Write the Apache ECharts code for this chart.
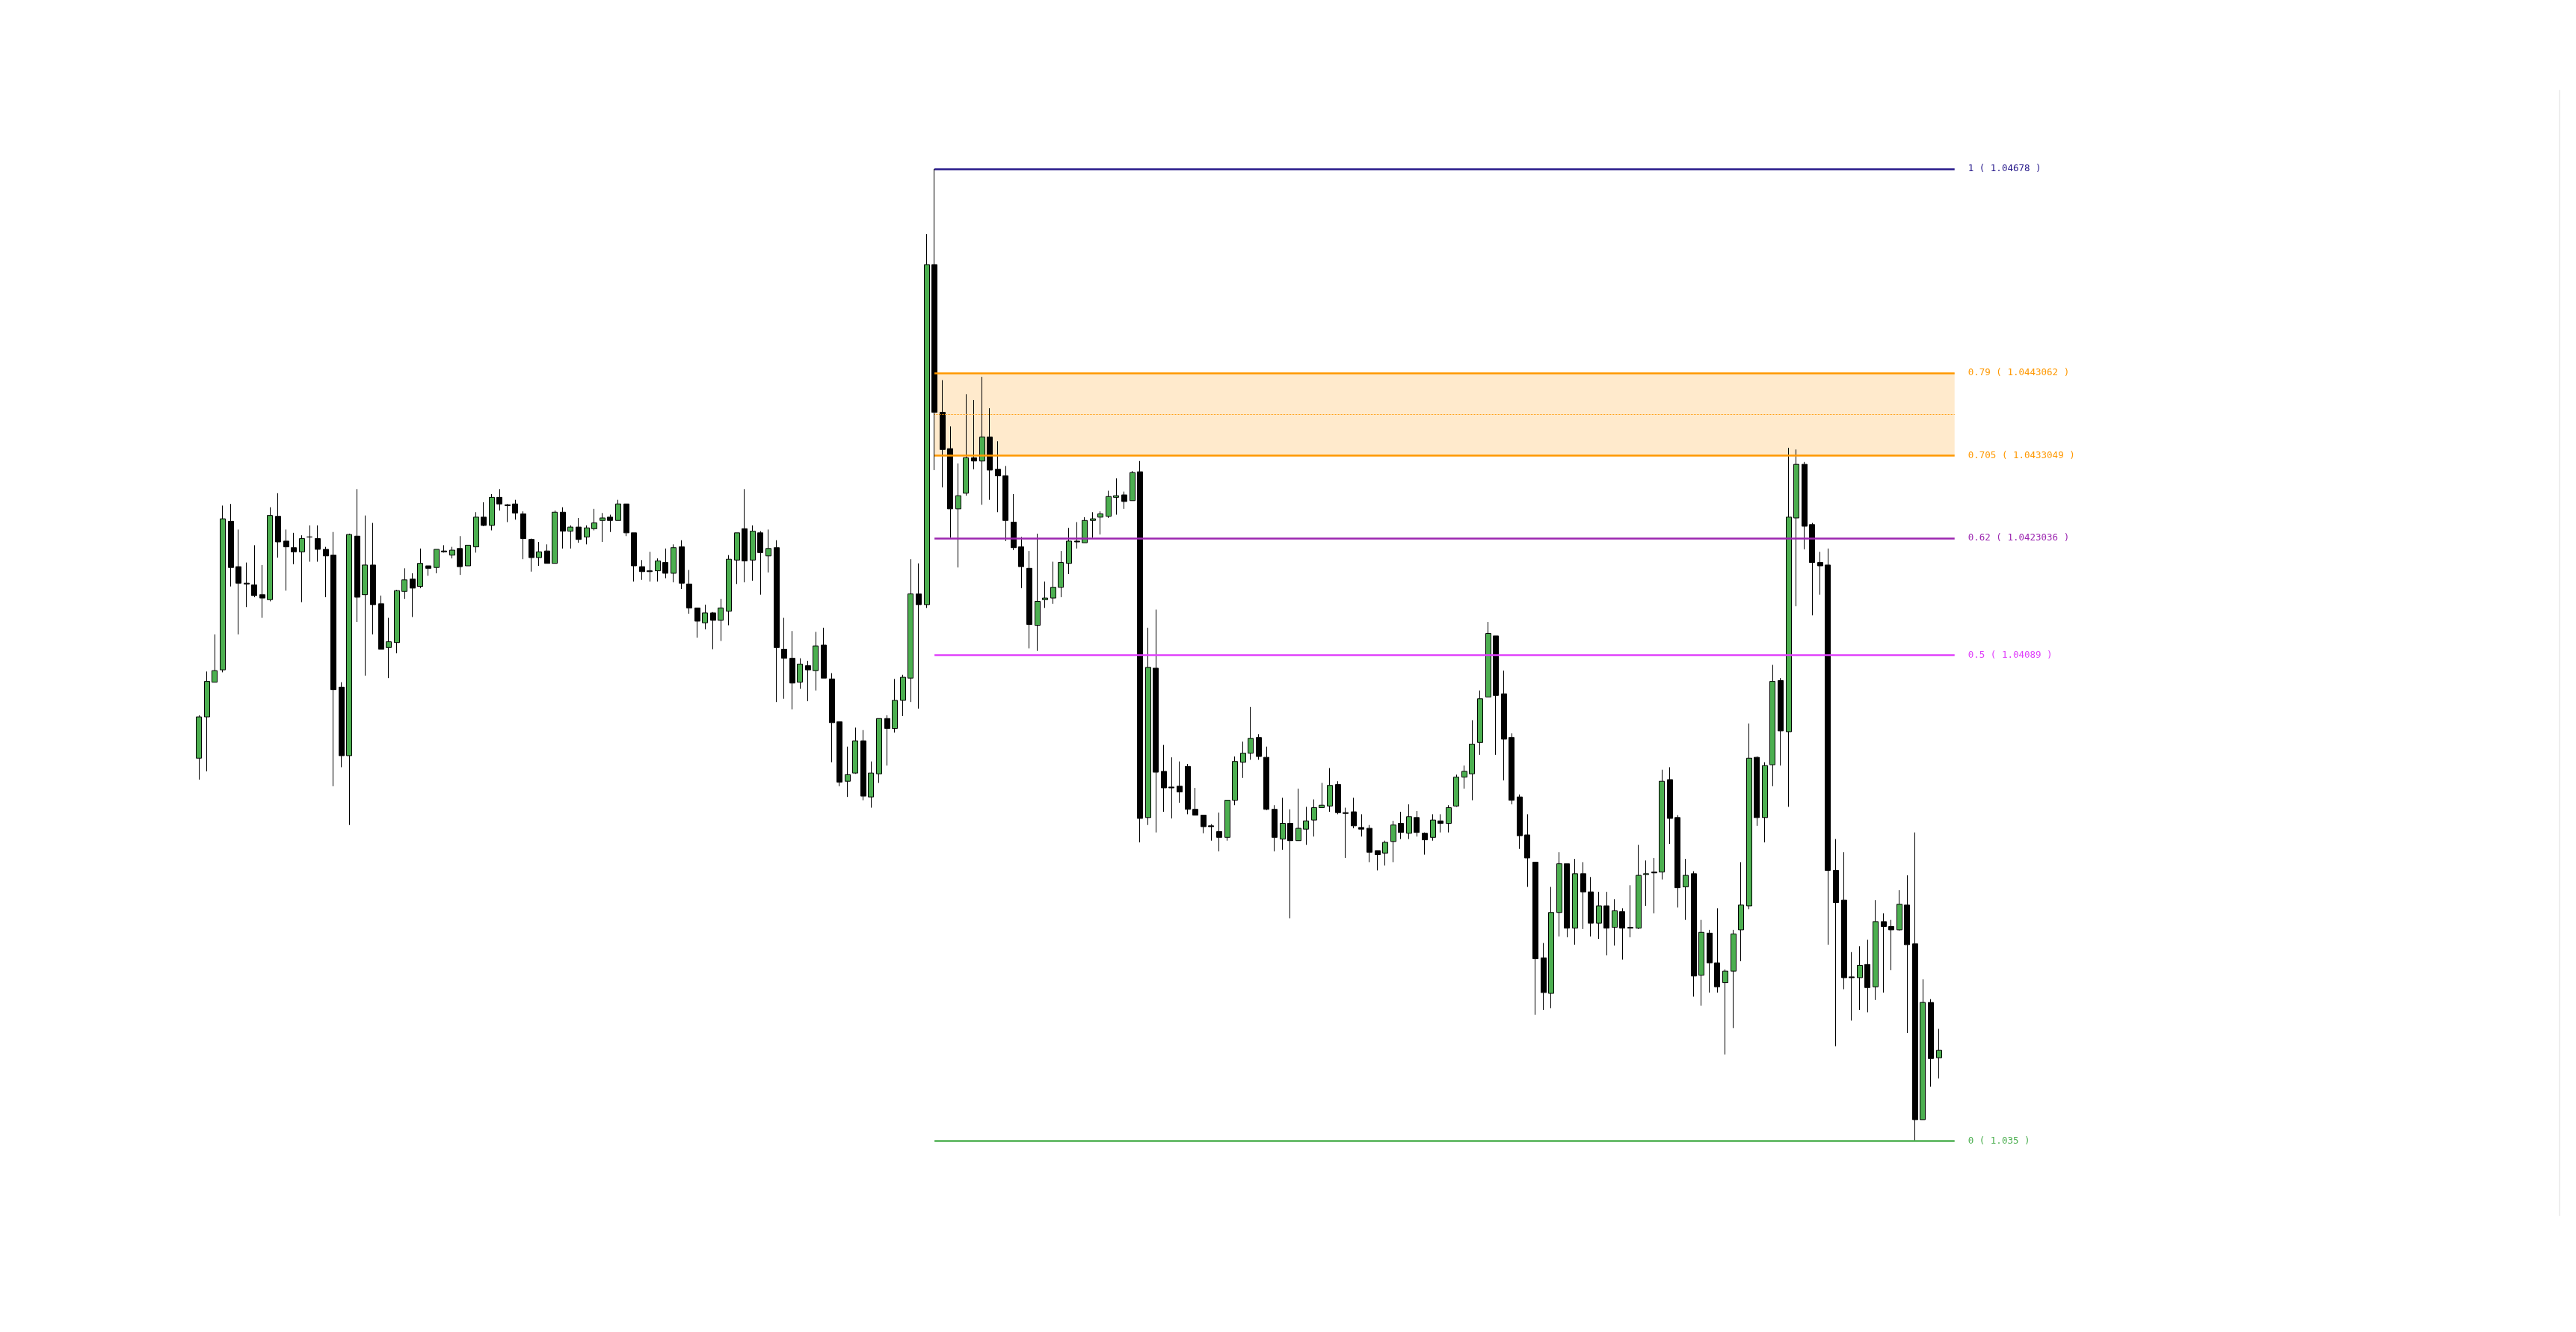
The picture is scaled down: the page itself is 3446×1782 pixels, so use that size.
<!DOCTYPE html>
<html><head><meta charset="utf-8">
<script src="https://cdn.jsdelivr.net/npm/echarts@6/dist/echarts.min.js"></script>
<style>html,body{margin:0;padding:0;background:#fff}#chart{width:3446px;height:1782px}</style>
</head><body><div id="chart"></div>
<script>
const opens = [
1.03964,1.04014,1.04056,1.04071,1.04251,1.04196,1.04176,1.04174,1.04162,1.04156,
1.04257,1.04227,1.04219,1.04214,1.04232,1.04230,1.04217,1.04210,1.04050,1.03967,
1.04233,1.04162,1.04198,1.04151,1.04098,1.04104,1.04166,1.04181,1.04172,1.04197,
1.04195,1.04215,1.04210,1.04218,1.04197,1.04220,1.04256,1.04246,1.04280,1.04271,
1.04272,1.04260,1.04229,1.04207,1.04215,1.04200,1.04262,1.04239,1.04244,1.04232,
1.04242,1.04252,1.04256,1.04252,1.04272,1.04237,1.04196,1.04191,1.04191,1.04201,
1.04188,1.04220,1.04175,1.04146,1.04128,1.04140,1.04131,1.04142,1.04204,1.04242,
1.04204,1.04237,1.04209,1.04219,1.04096,1.04085,1.04056,1.04076,1.04070,1.04101,
1.04060,1.04008,1.03936,1.03946,1.03985,1.03917,1.03945,1.04012,1.04000,1.04034,
1.04061,1.04163,1.04150,1.04562,1.04383,1.04339,1.04266,1.04285,1.04328,1.04324,
1.04353,1.04314,1.04306,1.04250,1.04220,1.04194,1.04125,1.04156,1.04158,1.04171,
1.04200,1.04227,1.04225,1.04252,1.04256,1.04257,1.04280,1.04283,1.04276,1.04311,
1.03892,1.04073,1.03948,1.03929,1.03930,1.03954,1.03902,1.03895,1.03882,1.03875,
1.03868,1.03913,1.03959,1.03970,1.03989,1.03965,1.03902,1.03866,1.03885,1.03864,
1.03878,1.03889,1.03904,1.03906,1.03932,1.03898,1.03899,1.03880,1.03879,1.03852,
1.03849,1.03863,1.03885,1.03873,1.03892,1.03873,1.03868,1.03888,1.03885,1.03906,
1.03941,1.03945,1.03983,1.04038,1.04112,1.04042,1.03989,1.03917,1.03871,1.03838,
1.03722,1.03679,1.03777,1.03836,1.03758,1.03824,1.03802,1.03764,1.03785,1.03759,
1.03778,1.03759,1.03758,1.03823,1.03826,1.03826,1.03938,1.03892,1.03808,1.03824,
1.03701,1.03752,1.03716,1.03692,1.03706,1.03756,1.03785,1.03965,1.03892,1.03956,
1.04058,1.03996,1.04255,1.04320,1.04247,1.04201,1.04198,1.03828,1.03792,1.03699,
1.03698,1.03714,1.03687,1.03766,1.03760,1.03756,1.03786,1.03739,1.03526,1.03668,1.03601
];
const closes = [
1.04014,1.04057,1.04070,1.04254,1.04195,1.04176,1.04175,1.04161,1.04158,1.04258,
1.04226,1.04220,1.04214,1.04230,1.04232,1.04217,1.04209,1.04047,1.03967,1.04235,
1.04159,1.04198,1.04150,1.04096,1.04105,1.04167,1.04180,1.04170,1.04200,1.04194,
1.04217,1.04214,1.04216,1.04196,1.04222,1.04256,1.04246,1.04280,1.04272,1.04270,
1.04261,1.04230,1.04207,1.04214,1.04200,1.04262,1.04239,1.04244,1.04229,1.04243,
1.04249,1.04255,1.04252,1.04272,1.04237,1.04197,1.04190,1.04190,1.04203,1.04188,
1.04219,1.04176,1.04146,1.04130,1.04140,1.04131,1.04146,1.04205,1.04237,1.04203,
1.04239,1.04213,1.04218,1.04098,1.04085,1.04055,1.04078,1.04071,1.04100,1.04061,
1.04007,1.03935,1.03944,1.03985,1.03918,1.03946,1.04012,1.04000,1.04034,1.04062,
1.04163,1.04150,1.04562,1.04383,1.04338,1.04266,1.04282,1.04328,1.04324,1.04353,
1.04313,1.04306,1.04252,1.04219,1.04196,1.04126,1.04154,1.04158,1.04171,1.04201,
1.04227,1.04226,1.04252,1.04254,1.04260,1.04281,1.04282,1.04275,1.04310,1.03891,
1.04074,1.03947,1.03928,1.03928,1.03923,1.03902,1.03895,1.03881,1.03881,1.03868,
1.03913,1.03960,1.03970,1.03988,1.03966,1.03902,1.03868,1.03885,1.03864,1.03879,
1.03888,1.03904,1.03907,1.03931,1.03898,1.03897,1.03882,1.03878,1.03850,1.03847,
1.03862,1.03883,1.03874,1.03893,1.03874,1.03865,1.03889,1.03885,1.03904,1.03941,
1.03948,1.03981,1.04036,1.04115,1.04040,1.03987,1.03913,1.03870,1.03843,1.03721,
1.03680,1.03777,1.03836,1.03758,1.03824,1.03802,1.03764,1.03785,1.03758,1.03779,
1.03758,1.03758,1.03822,1.03824,1.03825,1.03936,1.03891,1.03807,1.03822,1.03700,
1.03753,1.03716,1.03687,1.03706,1.03751,1.03786,1.03964,1.03892,1.03955,1.04057,
1.03997,1.04256,1.04320,1.04245,1.04201,1.04197,1.03828,1.03789,1.03698,1.03698,
1.03713,1.03686,1.03766,1.03760,1.03756,1.03787,1.03738,1.03526,1.03668,1.03600,1.03610
];
const lows = [
1.03938,1.03948,1.04056,1.04068,1.04172,1.04114,1.04147,1.04159,1.04134,1.04154,
1.04207,1.04167,1.04199,1.04153,1.04202,1.04202,1.04159,1.03930,1.03953,1.03883,
1.04129,1.04064,1.04114,1.04096,1.04061,1.04091,1.04157,1.04135,1.04170,1.04185,
1.04188,1.04213,1.04206,1.04186,1.04197,1.04213,1.04245,1.04240,1.04264,1.04250,
1.04253,1.04205,1.04190,1.04197,1.04200,1.04200,1.04218,1.04218,1.04225,1.04223,
1.04240,1.04226,1.04238,1.04252,1.04233,1.04178,1.04180,1.04178,1.04178,1.04182,
1.04177,1.04169,1.04139,1.04110,1.04120,1.04096,1.04106,1.04125,1.04175,1.04177,
1.04179,1.04162,1.04189,1.04032,1.04036,1.04023,1.04048,1.04033,1.04046,1.04061,
1.03959,1.03930,1.03917,1.03945,1.03913,1.03904,1.03934,1.03955,1.03995,1.04015,
1.04032,1.04024,1.04146,1.04313,1.04292,1.04231,1.04195,1.04282,1.04314,1.04271,
1.04277,1.04262,1.04227,1.04216,1.04170,1.04097,1.04094,1.04146,1.04151,1.04159,
1.04187,1.04218,1.04225,1.04231,1.04235,1.04255,1.04259,1.04266,1.04276,1.03862,
1.03883,1.03874,1.03899,1.03891,1.03910,1.03896,1.03895,1.03873,1.03864,1.03851,
1.03864,1.03907,1.03940,1.03962,1.03962,1.03901,1.03851,1.03853,1.03770,1.03864,
1.03859,1.03869,1.03904,1.03899,1.03896,1.03843,1.03879,1.03869,1.03838,1.03828,
1.03834,1.03838,1.03866,1.03866,1.03869,1.03847,1.03864,1.03874,1.03874,1.03905,
1.03927,1.03913,1.03968,1.04038,1.03968,1.03937,1.03908,1.03854,1.03808,1.03653,
1.03659,1.03661,1.03748,1.03747,1.03738,1.03757,1.03748,1.03745,1.03725,1.03737,
1.03720,1.03747,1.03757,1.03785,1.03776,1.03817,1.03860,1.03783,1.03768,1.03675,
1.03664,1.03680,1.03680,1.03605,1.03637,1.03718,1.03781,1.03882,1.03862,1.03930,
1.03955,1.03905,1.04148,1.04217,1.04137,1.04162,1.03738,1.03615,1.03684,1.03646,
1.03659,1.03656,1.03671,1.03680,1.03707,1.03755,1.03631,1.03500,1.03526,1.03566,1.03576
];
const highs = [
1.04016,1.04069,1.04114,1.04270,1.04272,1.04241,1.04201,1.04222,1.04198,1.04268,
1.04285,1.04241,1.04237,1.04234,1.04246,1.04246,1.04220,1.04238,1.04056,1.04236,
1.04290,1.04258,1.04249,1.04161,1.04134,1.04168,1.04194,1.04188,1.04218,1.04197,
1.04217,1.04222,1.04220,1.04233,1.04222,1.04262,1.04274,1.04284,1.04290,1.04272,
1.04277,1.04263,1.04230,1.04226,1.04223,1.04264,1.04268,1.04246,1.04255,1.04246,
1.04266,1.04261,1.04259,1.04277,1.04272,1.04237,1.04204,1.04214,1.04206,1.04218,
1.04223,1.04228,1.04192,1.04146,1.04150,1.04141,1.04157,1.04210,1.04237,1.04290,
1.04246,1.04239,1.04241,1.04228,1.04134,1.04118,1.04085,1.04082,1.04117,1.04122,
1.04067,1.04008,1.03978,1.04001,1.03998,1.03960,1.04012,1.04016,1.04060,1.04065,
1.04205,1.04200,1.04599,1.04678,1.04422,1.04366,1.04321,1.04405,1.04398,1.04426,
1.04388,1.04348,1.04318,1.04284,1.04232,1.04215,1.04236,1.04178,1.04202,1.04215,
1.04243,1.04250,1.04256,1.04262,1.04263,1.04288,1.04303,1.04287,1.04312,1.04324,
1.04122,1.04144,1.03980,1.03965,1.03960,1.03957,1.03928,1.03895,1.03884,1.03898,
1.03913,1.03966,1.03984,1.04026,1.03993,1.03978,1.03907,1.03916,1.03902,1.03927,
1.03905,1.03914,1.03934,1.03952,1.03936,1.03904,1.03916,1.03896,1.03883,1.03852,
1.03864,1.03888,1.03899,1.03908,1.03900,1.03874,1.03896,1.03896,1.03907,1.03944,
1.03955,1.04010,1.04046,1.04129,1.04112,1.04070,1.03994,1.03920,1.03896,1.03838,
1.03740,1.03808,1.03850,1.03836,1.03842,1.03838,1.03820,1.03802,1.03802,1.03793,
1.03782,1.03810,1.03859,1.03840,1.03843,1.03950,1.03953,1.03895,1.03842,1.03827,
1.03768,1.03756,1.03782,1.03708,1.03756,1.03838,1.04006,1.03966,1.03959,1.04077,
1.04061,1.04340,1.04338,1.04323,1.04249,1.04214,1.04218,1.03866,1.03850,1.03729,
1.03736,1.03744,1.03792,1.03776,1.03768,1.03804,1.03822,1.03874,1.03696,1.03672,1.03636
];

// x axis: one slot per bar plus empty room on the right
const categoryCount = 299;
const categories = [];
for (let i = 0; i < categoryCount; i++) categories.push(String(i));

// Fibonacci retracement
const fibRatioLabels = ['1', '0.79', '0.705', '0.62', '0.5', '0'];
const fibPrices = [1.04678, 1.0443062, 1.0433049, 1.0423036, 1.04089, 1.035];
const fibStartIndex = 93;
const fibEndIndex = 222;
const yMin = 1.0341;
const yMax = 1.04773;

const fibColors = ['#26188a', '#ff9800', '#ff9800', '#9c27b0', '#e040fb', '#4caf50'];

const candleData = opens.map((o, i) => [o, closes[i], lows[i], highs[i]]);

const fibLines = fibPrices.map((p, k) => [
  {
    coord: [fibStartIndex, p],
    lineStyle: { color: fibColors[k], width: 2.5, type: 'solid' },
    label: {
      show: true, position: 'end', distance: 18,
      formatter: fibRatioLabels[k] + ' ( ' + String(p) + ' )',
      color: fibColors[k], fontFamily: 'DejaVu Sans Mono', fontSize: 12.5
    }
  },
  { coord: [fibEndIndex, p] }
]);
const zoneMid = (fibPrices[1] + fibPrices[2]) / 2;
fibLines.push([
  { coord: [fibStartIndex, zoneMid], lineStyle: { color: '#ff9800', width: 1, type: 'dotted' }, label: { show: false } },
  { coord: [fibEndIndex, zoneMid] }
]);

const chart = echarts.init(document.getElementById('chart'), null, { renderer: 'canvas' });
chart.setOption({
  animation: false,
  backgroundColor: '#ffffff',
  grid: { left: 261, right: 22, top: 121, bottom: 156, containLabel: false, outerBoundsMode: 'none' },
  xAxis: {
    type: 'category', data: categories, boundaryGap: true,
    axisLine: { show: false }, axisTick: { show: false }, axisLabel: { show: false }, splitLine: { show: false }
  },
  yAxis: {
    type: 'value', position: 'right', min: yMin, max: yMax, scale: true,
    axisLine: { show: true, lineStyle: { color: '#eeeeee', width: 2 } },
    axisTick: { show: false }, axisLabel: { show: false }, splitLine: { show: false }
  },
  series: [{
    type: 'candlestick',
    data: candleData,
    barWidth: 7.5,
    itemStyle: {
      color: '#4caf50', color0: '#000000',
      borderColor: '#000000', borderColor0: '#000000', borderColorDoji: '#000000',
      borderWidth: 1
    },
    emphasis: { disabled: true },
    markArea: {
      silent: true,
      itemStyle: { color: 'rgba(255,152,0,0.2)' },
      data: [[{ coord: [fibStartIndex, fibPrices[1]] }, { coord: [fibEndIndex, fibPrices[2]] }]]
    },
    markLine: {
      silent: true, symbol: ['none', 'none'], animation: false,
      emphasis: { disabled: true },
      data: fibLines
    }
  }]
});
</script>
</body></html>
